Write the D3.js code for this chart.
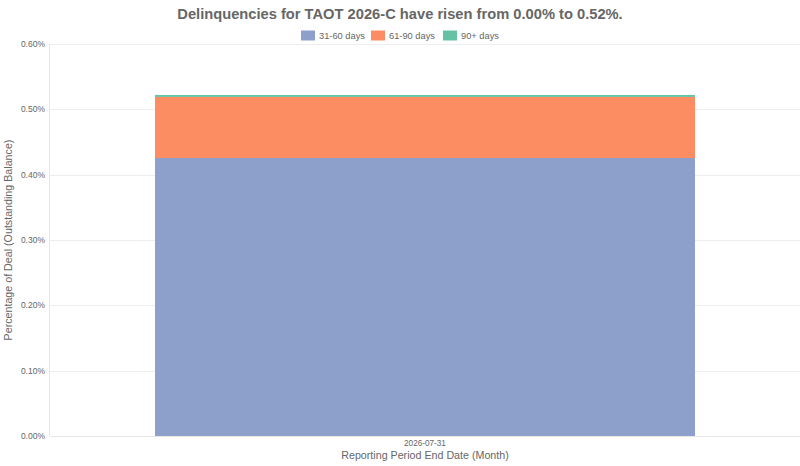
<!DOCTYPE html>
<html><head><meta charset="utf-8">
<script src="https://cdn.jsdelivr.net/npm/d3@7"></script>
<style>body{margin:0;background:#fff;font-family:"Liberation Sans",Arial,sans-serif;}</style>
</head><body><svg id="c" width="800" height="466"></svg>
<script>
const categories = ["2026-07-31"];
const seriesNames = ["31-60 days", "61-90 days", "90+ days"];
const seriesColors = ["#8da0cb", "#fc8d62", "#66c2a5"];
const s3160 = [0.4255];
const s6190 = [0.0935];
const s90p = [0.003];
const yTicks = [0, 0.1, 0.2, 0.3, 0.4, 0.5, 0.6];
const titleText = "Delinquencies for TAOT 2026-C have risen from 0.00% to 0.52%.";

const svg = d3.select("#c");
const m = {l:50, r:0, t:44, b:30};
const W = 800, H = 466;
const plotB = 436;
const x = d3.scaleBand().domain(categories).range([m.l, W - m.r]).paddingInner(0.28).paddingOuter(0.14);
const y = d3.scaleLinear().domain([0, 0.6]).range([plotB, m.t]);

// grid
svg.append("g").selectAll("line").data(yTicks).join("line")
  .attr("x1", m.l).attr("x2", W).attr("y1", d=>Math.round(y(d))+0.5).attr("y2", d=>Math.round(y(d))+0.5)
  .attr("stroke", "#eeeeee").attr("stroke-width", 1);

const rows = categories.map((c,i)=>({cat:c, "31-60 days":s3160[i], "61-90 days":s6190[i], "90+ days":s90p[i]}));
const stack = d3.stack().keys(seriesNames)(rows);
svg.append("g").selectAll("g").data(stack).join("g")
  .attr("fill", (d,i)=>seriesColors[i])
  .selectAll("rect").data(d=>d).join("rect")
  .attr("x", d=>x(d.data.cat)).attr("width", x.bandwidth())
  .attr("y", d=>y(d[1])).attr("height", d=>y(d[0])-y(d[1]));

// axes lines
svg.append("line").attr("x1", m.l-0.5).attr("x2", m.l-0.5).attr("y1", m.t).attr("y2", plotB).attr("stroke", "#e6e6e6");
svg.append("line").attr("x1", m.l).attr("x2", W).attr("y1", plotB+0.5).attr("y2", plotB+0.5).attr("stroke", "#e6e6e6");

// y tick labels
svg.append("g").selectAll("text").data(yTicks).join("text")
  .attr("x", 45).attr("y", d=>y(d)).attr("dy", "0.35em").attr("text-anchor", "end")
  .attr("font-size", 8.5).attr("fill", "#666").text(d=>d3.format(".2f")(d)+"%");

// x tick labels
svg.append("g").selectAll("text").data(categories).join("text")
  .attr("x", d=>x(d)+x.bandwidth()/2).attr("y", 446).attr("text-anchor", "middle")
  .attr("font-size", 8.2).attr("fill", "#666").text(d=>d);

// axis titles
svg.append("text").attr("x", (m.l+W)/2).attr("y", 459).attr("text-anchor", "middle")
  .attr("font-size", 10.7).attr("fill", "#666").text("Reporting Period End Date (Month)");
svg.append("text").attr("transform", `translate(12,${(m.t+plotB)/2}) rotate(-90)`).attr("text-anchor", "middle")
  .attr("font-size", 10.7).attr("fill", "#666").text("Percentage of Deal (Outstanding Balance)");

// title
svg.append("text").attr("x", 400).attr("y", 18.5).attr("text-anchor", "middle")
  .attr("font-size", 14.7).attr("font-weight", "bold").attr("fill", "#666").text(titleText);

// legend
const legX = [301, 371, 443];
const lg = svg.append("g").selectAll("g").data(seriesNames).join("g")
  .attr("transform", (d,i)=>`translate(${legX[i]},30.5)`);
lg.append("rect").attr("width", 14).attr("height", 10).attr("fill", (d,i)=>seriesColors[i]);
lg.append("text").attr("x", 18).attr("y", 5).attr("dy", "0.35em").attr("font-size", 9.3).attr("fill", "#666").text(d=>d);
</script></body></html>
